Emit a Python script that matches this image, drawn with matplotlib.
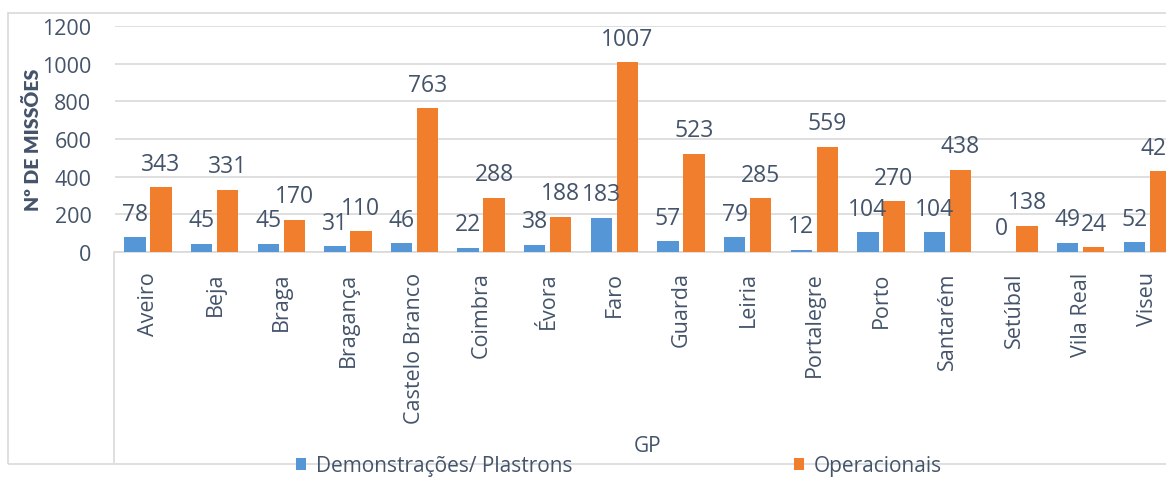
import numpy as np
import matplotlib.pyplot as plt
from matplotlib.patches import Rectangle

plt.rcParams['font.family'] = ['Open Sans', 'DejaVu Sans']

# Data
categories = ['Aveiro', 'Beja', 'Braga', 'Bragança', 'Castelo Branco', 'Coimbra',
              'Évora', 'Faro', 'Guarda', 'Leiria', 'Portalegre', 'Porto',
              'Santarém', 'Setúbal', 'Vila Real', 'Viseu']
demonstracoes = [78, 45, 45, 31, 46, 22, 38, 183, 57, 79, 12, 104, 104, 0, 49, 52]
operacionais = [343, 331, 170, 110, 763, 288, 188, 1007, 523, 285, 559, 270, 438, 138, 24, 429]

text_col = '#44546A'
blue = '#5597D6'
orange = '#F07E2C'

fig = plt.figure(figsize=(11.66, 4.81), dpi=100)
W, H = 1166, 481
ax = fig.add_axes([115 / W, 1 - 253 / H, 1066 / W, 226 / H])

x = np.arange(len(categories))
w = 0.32
b1 = ax.bar(x - 0.2, demonstracoes, w, color=blue, label='Demonstrações/ Plastrons', zorder=3)
b2 = ax.bar(x + 0.19, operacionais, w, color=orange, label='Operacionais', zorder=3)

for bars in (b1, b2):
    for r in bars:
        ax.annotate(f'{int(r.get_height())}', (r.get_x() + r.get_width() / 2, r.get_height()),
                    xytext=(0, 17), textcoords='offset points', ha='center', va='center',
                    fontsize=16.5, color=text_col)

ax.set_xlim(-0.5, len(categories) - 0.5)
ax.set_ylim(0, 1200)
ax.set_yticks(range(0, 1201, 200))
ax.set_xticks(x)
ax.set_xticklabels(categories, rotation=90, fontsize=15.5, color=text_col)
ax.tick_params(axis='x', length=0, pad=14)
ax.tick_params(axis='y', length=0, pad=17, labelsize=15.5, labelcolor=text_col)
ax.grid(axis='y', color='#D9D9D9', linewidth=1.2, zorder=0)
for s in ('top', 'right', 'left'):
    ax.spines[s].set_visible(False)
ax.spines['bottom'].set_color('#D9D9D9')
ax.spines['bottom'].set_linewidth(1.2)

ax.set_ylabel('Nº DE MISSÕES', fontsize=14, fontweight='heavy', color=text_col,
              family=['Lato', 'DejaVu Sans'])
ax.yaxis.set_label_coords(-73 / 1066, 0.5)

fig.text(648 / W, 1 - 446 / H, 'GP', ha='center', va='center', fontsize=15, color=text_col)

# chart frame and category axis edge
fig.add_artist(plt.Line2D([114 / W, 114 / W], [1 - 253 / H, 1 - 463 / H], color='#D9D9D9', lw=1.2))
fig.add_artist(Rectangle((8 / W, 1 - 465 / H), 1.2, (465 - 14) / H, fill=False,
                         edgecolor='#D9D9D9', lw=1.2, transform=fig.transFigure))

fig.legend(handles=[b1, b2], loc='center', bbox_to_anchor=(619 / W, 1 - 467 / H), ncol=2,
           frameon=False, fontsize=15, handlelength=0.48, handleheight=0.48, handletextpad=0.5,
           columnspacing=10.6, labelcolor=text_col, borderpad=0)

fig.savefig('out.png', dpi=100)
